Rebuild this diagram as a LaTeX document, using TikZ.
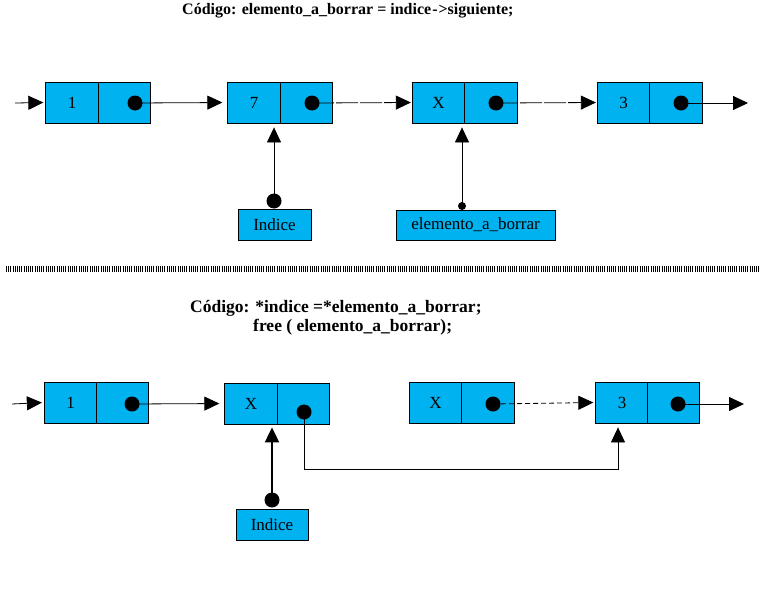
\documentclass[tikz,border=0pt]{standalone}
\usepackage{fontspec}
\setmainfont{Liberation Serif}
\usetikzlibrary{arrows.meta}
\definecolor{boxcyan}{RGB}{0,178,240}
\tikzset{
  cell/.style={draw=black, line width=0.8pt, fill=boxcyan, minimum width=52.5pt, minimum height=41pt, inner sep=0pt, font=\fontsize{17}{19}\selectfont},
  label box/.style={draw=black, line width=0.8pt, fill=boxcyan, inner sep=0pt, font=\fontsize{17}{19}\selectfont},
  bigdot/.style={circle, fill=black, inner sep=0pt, minimum size=15pt},
  smalldot/.style={circle, fill=black, inner sep=0pt, minimum size=8pt},
  arr/.style={line width=0.8pt, -{Triangle[length=15pt,width=14pt]}},
  longdash/.style={dash pattern=on 22pt off 2pt},
  shortdash/.style={dash pattern=on 5pt off 3pt},
  title/.style={font=\fontsize{16}{18}\selectfont\bfseries, inner sep=0pt, anchor=base west},
  title2/.style={font=\fontsize{17.5}{20}\selectfont\bfseries, inner sep=0pt, anchor=base west}
}
\begin{document}
\begin{tikzpicture}[x=1pt,y=-1pt]
\useasboundingbox (0,0) rectangle (762,594);
% ---------- top ----------
\node[title] (t1) at (182,15) {Código: elemento\_a\_borrar = indice{\kern1pt}-{\kern1pt}>siguiente;};
% list nodes
\node[cell] (a1) at (72,102.5) {1};
\node[cell] (a2) at (124.5,102.5) {};
\node[cell] (b1) at (254,102.5) {7};
\node[cell] (b2) at (306.5,102.5) {};
\node[cell] (c1) at (438.5,102.5) {X};
\node[cell] (c2) at (491,102.5) {};
\node[cell] (d1) at (623.5,102.5) {3};
\node[cell] (d2) at (676,102.5) {};
% dots
\node[bigdot] (ad) at (135,103) {};
\node[bigdot] (bd) at (312,103) {};
\node[bigdot] (cd) at (496,103) {};
\node[bigdot] (dd) at (681,103) {};
\coordinate (tin) at (15,103);
\coordinate (tout) at (748,103);
\draw[arr, shorten >=2pt] (tin) -- (a1.west);
\draw[arr, shorten >=5pt] (ad.center) -- (b1.west);
\draw[arr, longdash, shorten >=1pt] (bd.center) -- (c1.west);
\draw[arr, longdash, shorten >=1pt] (cd.center) -- (d1.west);
\draw[arr] (dd.center) -- (tout);
% pointers
\node[label box, minimum width=73pt, minimum height=31pt] (ind1) at (274.5,224.5) {Indice};
\node[label box, minimum width=159pt, minimum height=30pt] (ele) at (475.5,225) {elemento\_a\_borrar};
\node[bigdot] (id1) at (274,201) {};
\node[smalldot] (ed) at (462,206) {};
\draw[arr, shorten >=4pt] (id1.center) -- (id1.center |- b1.south);
\draw[arr, shorten >=4pt] (ed.center) -- (ed.center |- c1.south);
% ---------- separator ----------
\coordinate (s1) at (6,269);
\coordinate (s2) at (760,269);
\draw[line width=6pt, dash pattern=on 1pt off 1.2pt] (s1) -- (s2);
% ---------- bottom ----------
\node[title2] (t2) at (190,312) {Código: *indice =*elemento\_a\_borrar;};
\node[title2] (t3) at (253,331) {free ( elemento\_a\_borrar);};
\node[cell] (e1) at (70.5,402.5) {1};
\node[cell] (e2) at (122.5,402.5) {};
\node[cell] (f1) at (251,403.5) {X};
\node[cell] (f2) at (303.5,403.5) {};
\node[cell] (g1) at (435.5,402.5) {X};
\node[cell] (g2) at (488,402.5) {};
\node[cell] (h1) at (622,402.5) {3};
\node[cell] (h2) at (673.5,402.5) {};
\node[bigdot] (ed2) at (132,404) {};
\node[bigdot] (fd) at (304,412) {};
\node[bigdot] (gd) at (493,404) {};
\node[bigdot] (hd) at (678,404) {};
\coordinate (bin) at (12,404);
\coordinate (bout) at (744,404);
\coordinate (bend) at (618,469);
\draw[arr, shorten >=2pt] (bin) -- (e1.west);
\draw[arr, shorten >=5pt] (ed2.center) -- (f1.west);
\draw[arr, shortdash, shorten >=2pt] (gd.center) -- (h1.west);
\draw[arr] (hd.center) -- (bout);
\draw[arr, shorten >=4pt] (fd.center) -- (fd.center |- bend) -- (bend) -- (bend |- h1.south);
\node[label box, minimum width=72pt, minimum height=31pt] (ind2) at (272,524.5) {Indice};
\node[bigdot] (id2) at (272,500) {};
\draw[arr, line width=2pt, -{Triangle[length=15pt,width=14pt]}, shorten >=3pt] (id2.center) -- (id2.center |- f1.south);
\end{tikzpicture}
\end{document}
